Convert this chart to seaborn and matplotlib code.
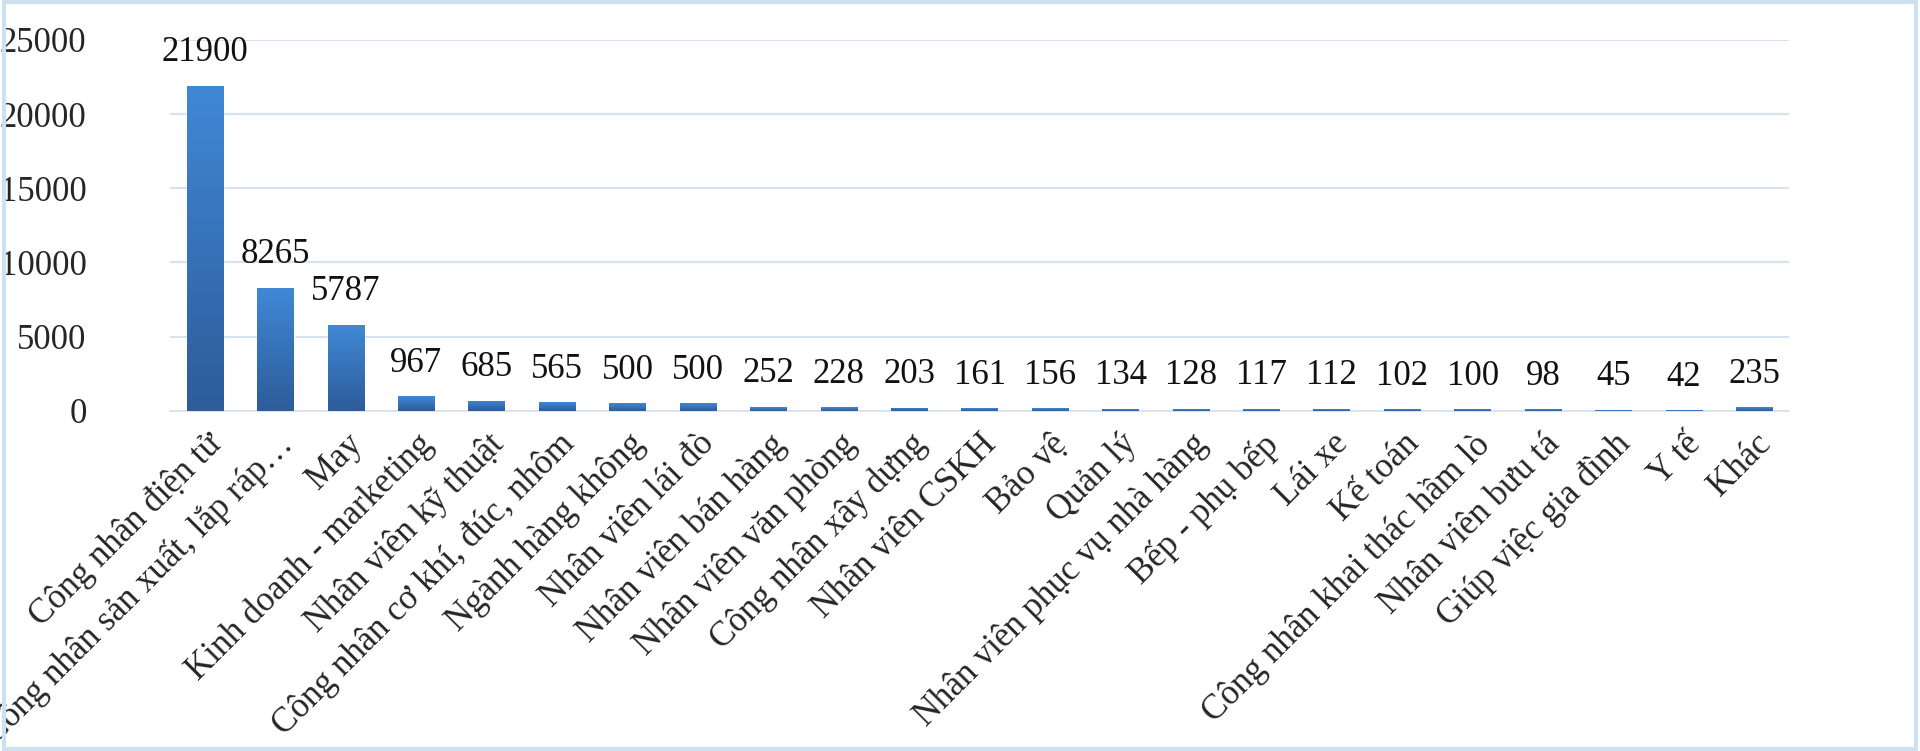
import matplotlib
matplotlib.use("Agg")
import matplotlib.pyplot as plt
import seaborn as sns
import numpy as np
import pandas as pd
from matplotlib.patches import Rectangle
from matplotlib.colors import LinearSegmentedColormap

categories = ["Công nhân điện tử", "Công nhân sản xuất, lắp ráp…", "May",
              "Kinh doanh - marketing", "Nhân viên kỹ thuật", "Công nhân cơ khí, đúc, nhôm",
              "Ngành hàng không", "Nhân viên lái đò", "Nhân viên bán hàng",
              "Nhân viên văn phòng", "Công nhân xây dựng", "Nhân viên CSKH", "Bảo vệ",
              "Quản lý", "Nhân viên phục vụ nhà hàng", "Bếp - phụ bếp", "Lái xe",
              "Kế toán", "Công nhân khai thác hầm lò", "Nhân viên bưu tá",
              "Giúp việc gia đình", "Y tế", "Khác"]
values = [21900, 8265, 5787, 967, 685, 565, 500, 500, 252, 228, 203, 161, 156,
          134, 128, 117, 112, 102, 100, 98, 45, 42, 235]
yticks = [0, 5000, 10000, 15000, 20000, 25000]

sns.set_theme(style="white")
plt.rcParams['font.family'] = ['Liberation Serif', 'DejaVu Serif']

fig = plt.figure(figsize=(19.2, 7.51), dpi=100)
ax = fig.add_axes([0.0885, 0.453, 0.8435, 0.494])
df = pd.DataFrame({"cat": categories, "val": values})
sns.barplot(data=df, x="cat", y="val", color="#3a7bc8", width=0.52, ax=ax, saturation=1)

cmap = LinearSegmentedColormap.from_list("g", ["#2d5c9a", "#4088d6"])
grad = np.linspace(0, 1, 256).reshape(-1, 1)
for p in list(ax.patches):
    x0, y0, w, h = p.get_x(), p.get_y(), p.get_width(), p.get_height()
    im = ax.imshow(grad, extent=[x0, x0 + w, y0, y0 + h], origin="lower",
                   aspect="auto", cmap=cmap, zorder=3)
    im.set_clip_path(p)
    ax.annotate(f"{int(h)}", (x0 + w / 2, h), xytext=(0, 12), textcoords="offset points",
                ha="center", va="bottom", fontsize=25, color="#111111")

ax.set_xlim(-0.5, len(categories) - 0.5)
ax.set_ylim(0, 25000)
ax.set_yticks(yticks)
ax.set_yticklabels([str(t) for t in yticks], fontsize=25)
ax.set_xticks(range(len(categories)))
ax.set_xticklabels(categories, rotation=45, ha="right", rotation_mode="anchor", fontsize=25)
ax.tick_params(axis="x", pad=12, length=0)
ax.tick_params(axis="y", pad=60, length=0)
ax.yaxis.grid(True, color="#d6e2ef", linewidth=1.5)
ax.set_axisbelow(True)
for s in ["top", "right", "left"]:
    ax.spines[s].set_visible(False)
ax.spines["bottom"].set_color("#d6e2ef")
ax.set_xlabel("")
ax.set_ylabel("")
fig.patches.append(Rectangle((0.002, 0.003), 0.996, 0.994, transform=fig.transFigure,
                             fill=False, edgecolor="#cfe0f0", linewidth=3))
fig.savefig("out.png", dpi=100)
